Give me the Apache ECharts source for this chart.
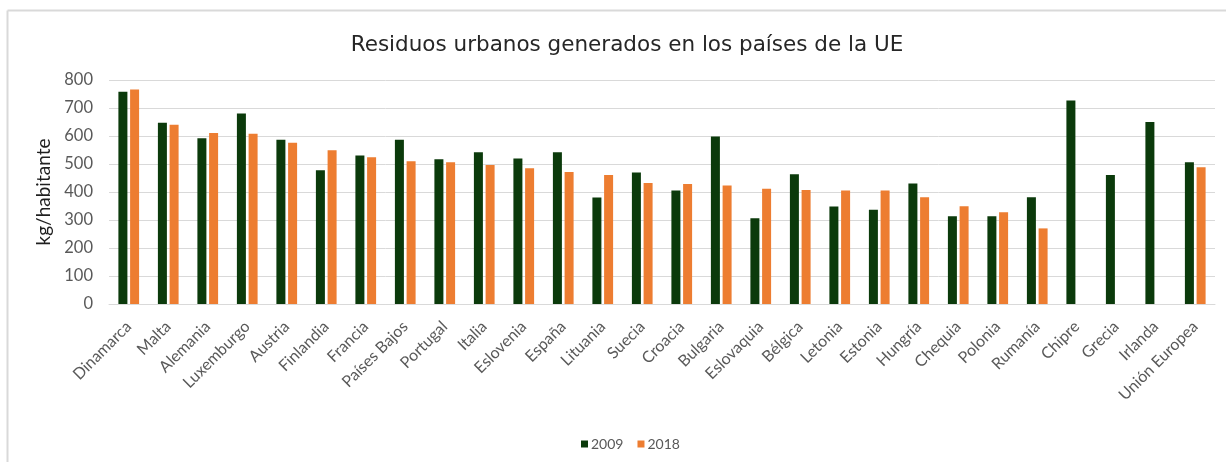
<!DOCTYPE html>
<html>
<head>
<meta charset="utf-8">
<script src="https://cdn.jsdelivr.net/npm/echarts@6/dist/echarts.min.js"></script>
<style>
  html, body { margin: 0; padding: 0; background: #fff; }
  #chart { width: 1226px; height: 462px; }
</style>
</head>
<body>
<div id="chart"></div>
<script>
// Municipal waste generated per inhabitant (kg) in EU countries
const countries = ['Dinamarca', 'Malta', 'Alemania', 'Luxemburgo', 'Austria', 'Finlandia', 'Francia',
  'Países Bajos', 'Portugal', 'Italia', 'Eslovenia', 'España', 'Lituania', 'Suecia', 'Croacia',
  'Bulgaria', 'Eslovaquia', 'Bélgica', 'Letonia', 'Estonia', 'Hungría', 'Chequia', 'Polonia',
  'Rumanía', 'Chipre', 'Grecia', 'Irlanda', 'Unión Europea'];

const values2009 = [758, 647, 592, 680, 587, 478, 530, 587, 517, 542, 520, 542, 380, 470, 405,
  598, 306, 463, 348, 337, 430, 313, 313, 381, 727, 461, 650, 506];

const values2018 = [766, 640, 611, 608, 576, 549, 524, 510, 506, 496, 485, 471, 461, 432, 429,
  423, 412, 407, 405, 405, 381, 349, 328, 270, null, null, null, 488];

const yTicks = { min: 0, max: 800, interval: 100 };

const chart = echarts.init(document.getElementById('chart'));
const labelFont = 'Lato, "Open Sans", sans-serif';

chart.setOption({
  backgroundColor: '#fff',
  animation: false,
  graphic: [
    { type: 'line', shape: { x1: 7.5, y1: 10.5, x2: 1226, y2: 10.5 }, style: { stroke: '#d9d9d9', lineWidth: 2 } },
    { type: 'line', shape: { x1: 7.5, y1: 10.5, x2: 7.5, y2: 462 }, style: { stroke: '#d9d9d9', lineWidth: 2 } }
  ],
  title: {
    text: 'Residuos urbanos generados en los países de la UE',
    left: 622,
    textAlign: 'center',
    top: 29,
    textStyle: { fontFamily: '"DejaVu Sans", sans-serif', fontSize: 21.5, fontWeight: 'normal', color: '#262626' }
  },
  legend: {
    data: ['2009', '2018'],
    left: 576,
    top: 432,
    itemWidth: 7,
    itemHeight: 7,
    itemGap: 14,
    icon: 'rect',
    textStyle: { fontFamily: labelFont, fontSize: 14, color: '#595959', padding: [0, 0, 0, -2] }
  },
  grid: { left: 109, right: 11, top: 80, bottom: 158 },
  xAxis: {
    type: 'category',
    data: countries,
    axisLine: { lineStyle: { color: '#d9d9d9', width: 1 } },
    axisTick: { show: false },
    axisLabel: {
      interval: 0,
      rotate: 45,
      margin: 20,
      fontFamily: labelFont,
      fontSize: 16,
      color: '#595959'
    }
  },
  yAxis: {
    type: 'value',
    min: yTicks.min,
    max: yTicks.max,
    interval: yTicks.interval,
    name: 'kg/habitante',
    nameLocation: 'middle',
    nameGap: 55,
    nameRotate: 90,
    nameTextStyle: { fontFamily: labelFont, fontSize: 19, fontWeight: 'normal', color: '#1f1f1f' },
    axisLine: { show: false },
    axisTick: { show: false },
    splitLine: { lineStyle: { color: '#d9d9d9', width: 1 } },
    axisLabel: { fontFamily: labelFont, fontSize: 16.5, color: '#595959', margin: 16 }
  },
  series: [
    {
      name: '2009',
      type: 'bar',
      data: values2009,
      barWidth: 9,
      barGap: '30%',
      itemStyle: { color: '#0b3a0b' }
    },
    {
      name: '2018',
      type: 'bar',
      data: values2018.map(v => v === null ? '-' : v),
      barWidth: 9,
      itemStyle: { color: '#ed7d31' }
    }
  ]
});
</script>
</body>
</html>
